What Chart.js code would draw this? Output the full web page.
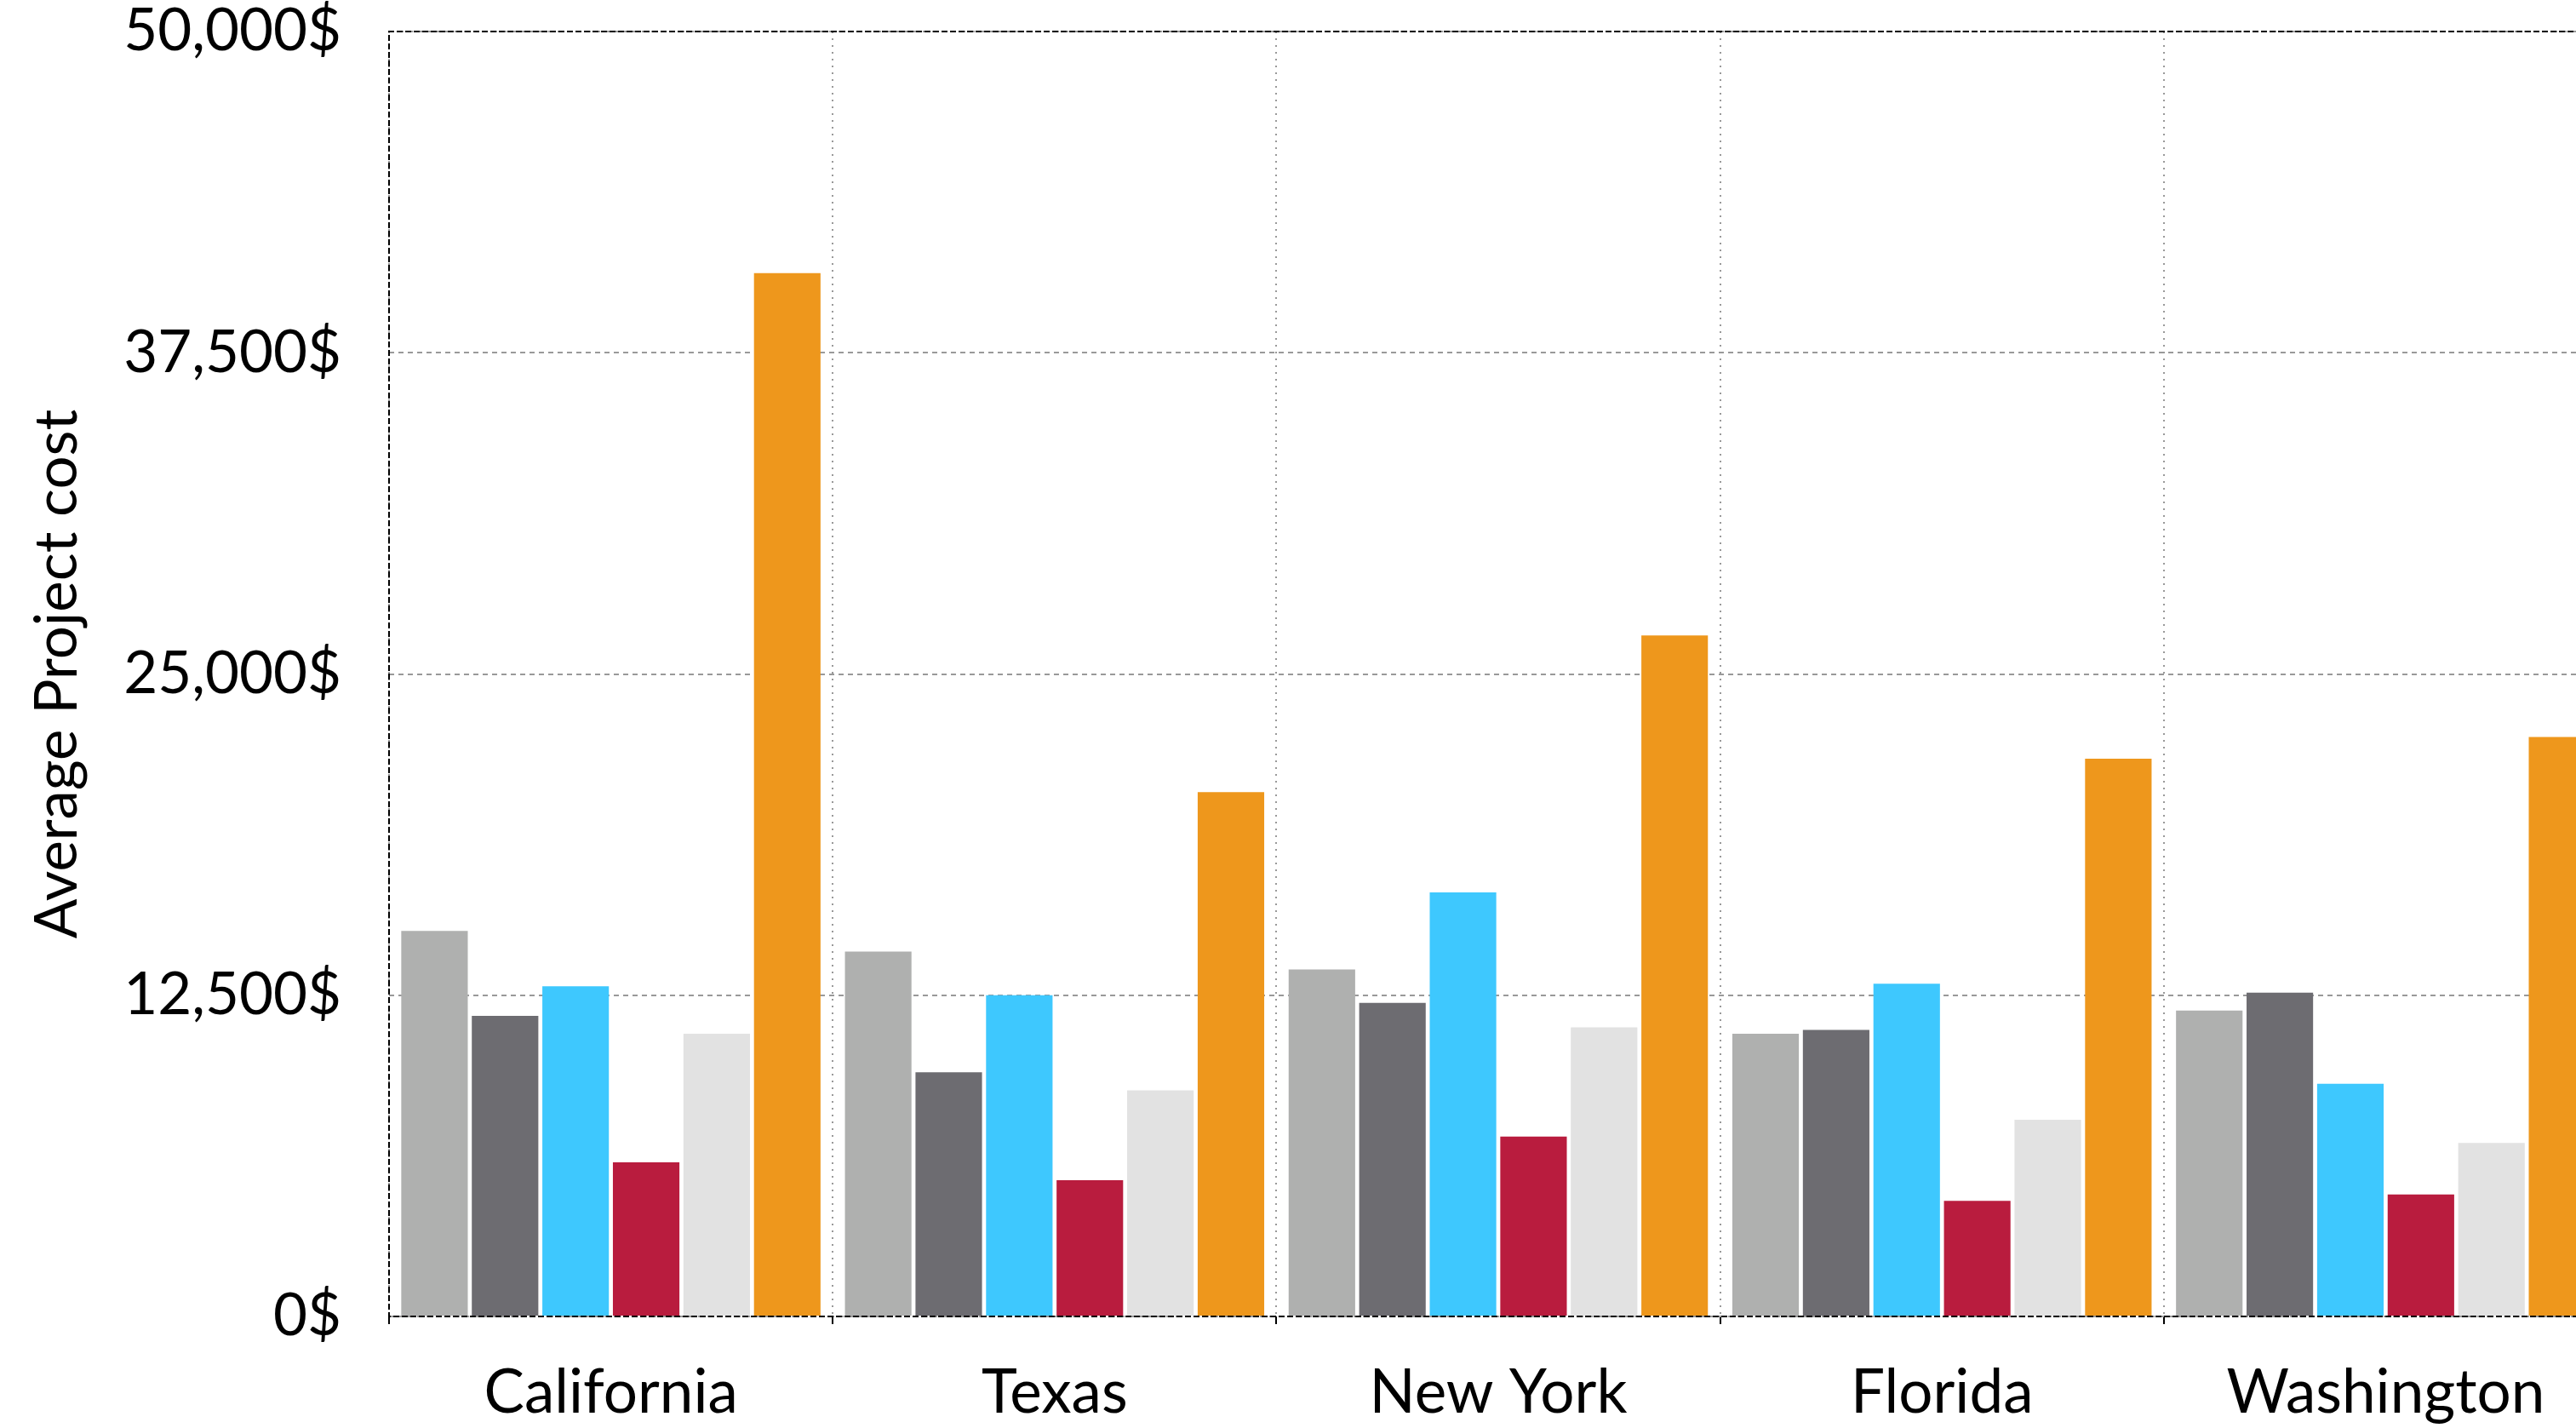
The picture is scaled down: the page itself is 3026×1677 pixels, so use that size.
<!DOCTYPE html>
<html lang="en">
<head>
    <meta charset="UTF-8">
    <title>Average Project cost by state</title>
    <script src="https://cdn.jsdelivr.net/npm/chart.js@4.4.1/dist/chart.umd.min.js"></script>
    <style>
        html, body { margin: 0; padding: 0; overflow: hidden; background: #fff; }
        #wrap { width: 3063px; height: 1677px; }
    </style>
</head>
<body>
    <div id="wrap"><canvas id="myChart"></canvas></div>
    <script>
        // values
        const states = ['California', 'Texas', 'New York', 'Florida', 'Washington'];
        const seriesNames = ['Series 1', 'Series 2', 'Series 3', 'Series 4', 'Series 5', 'Series 6'];
        const series1 = [15000, 14200, 13500, 11000, 11900];
        const series2 = [11700, 9500, 12200, 11150, 12600];
        const series3 = [12850, 12500, 16500, 12950, 9050];
        const series4 = [6000, 5300, 7000, 4500, 4750];
        const series5 = [11000, 8800, 11250, 7650, 6750];
        const series6 = [40600, 20400, 26500, 21700, 22550];
        const yTicks = [0, 12500, 25000, 37500, 50000];
        const colors = ['#afb0af', '#6d6c71', '#3ec8fe', '#b91c3e', '#e2e2e2', '#ee971c'];

        const allSeries = [series1, series2, series3, series4, series5, series6];

        // dashed black frame on top, left and bottom of the plot
        const frame = {
            id: 'frame',
            afterDatasetsDraw: (chart) => {
                const ctx = chart.ctx;
                const a = chart.chartArea;
                ctx.save();
                ctx.strokeStyle = '#000';
                ctx.lineWidth = 2;
                ctx.setLineDash([7, 3]);
                ctx.beginPath();
                ctx.moveTo(a.right, a.top);
                ctx.lineTo(a.left, a.top);
                ctx.lineTo(a.left, a.bottom);
                ctx.lineTo(a.right, a.bottom);
                ctx.stroke();
                ctx.restore();
            }
        };

        const ctx = document.getElementById('myChart').getContext('2d');
        const myChart = new Chart(ctx, {
            type: 'bar',
            data: {
                labels: states,
                datasets: allSeries.map((vals, i) => ({
                    label: seriesNames[i],
                    data: vals,
                    backgroundColor: colors[i],
                    borderWidth: 0,
                    categoryPercentage: 0.954,
                    barPercentage: 0.943
                }))
            },
            plugins: [frame],
            options: {
                responsive: true,
                maintainAspectRatio: false,
                animation: false,
                layout: { padding: 0 },
                plugins: {
                    legend: { display: false },
                    tooltip: { enabled: false }
                },
                scales: {
                    x: {
                        afterFit: (s) => { s.height = 131; },
                        grid: {
                            color: '#999',
                            lineWidth: 2,
                            offset: true,
                            tickColor: '#000',
                            tickLength: 9,
                            tickWidth: 2
                        },
                        border: { display: false, dash: [2, 6] },
                        ticks: {
                            color: '#000',
                            padding: 39,
                            font: { family: 'Lato', size: 71 }
                        }
                    },
                    y: {
                        min: 0,
                        max: 50000,
                        afterFit: (s) => { s.width = 457; s.paddingTop = 37; },
                        afterBuildTicks: (s) => { s.ticks = yTicks.map(v => ({ value: v })); },
                        grid: {
                            color: '#999',
                            lineWidth: 2,
                            drawTicks: false
                        },
                        border: { display: false, dash: [6, 5] },
                        ticks: {
                            color: '#000',
                            padding: 56,
                            font: { family: 'Lato', size: 69, lineHeight: 1 },
                            callback: function(value) {
                                return value.toLocaleString('en-US') + '$';
                            }
                        },
                        title: {
                            display: true,
                            text: 'Average Project cost',
                            color: '#000',
                            padding: { top: 26, bottom: 0 },
                            font: { family: 'Lato', size: 69 }
                        }
                    }
                }
            }
        });
    </script>
</body>
</html>
